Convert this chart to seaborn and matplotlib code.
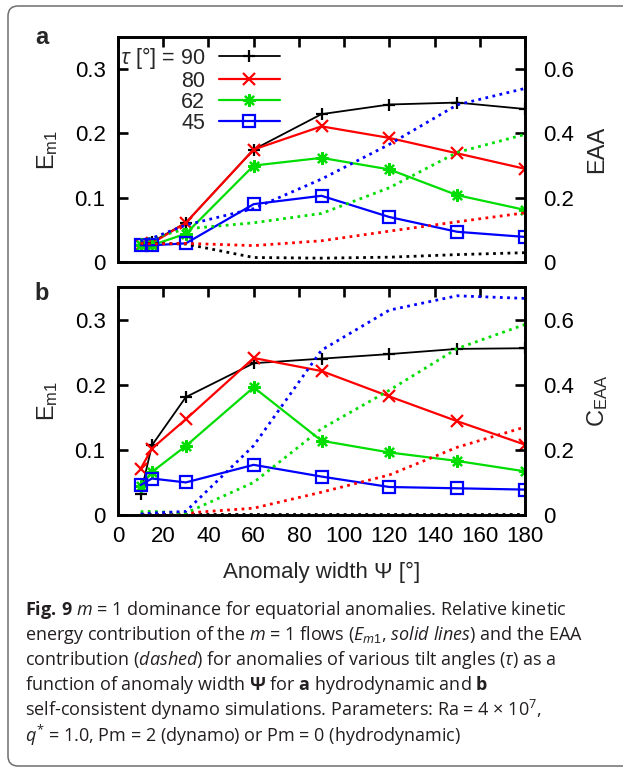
import matplotlib
matplotlib.use("Agg")
import matplotlib.pyplot as plt
import seaborn as sns
import pandas as pd
from matplotlib.lines import Line2D
from matplotlib.patches import FancyBboxPatch

# ---------------- data ----------------
psi = [10, 15, 30, 60, 90, 120, 150, 180]
taus = [90, 80, 62, 45]

# panel a (hydrodynamic)
a_em1_90 = [0.026, 0.031, 0.061, 0.175, 0.230, 0.245, 0.248, 0.238]
a_em1_80 = [0.026, 0.029, 0.061, 0.175, 0.211, 0.193, 0.169, 0.145]
a_em1_62 = [0.026, 0.026, 0.044, 0.150, 0.162, 0.144, 0.104, 0.081]
a_em1_45 = [0.026, 0.026, 0.029, 0.090, 0.103, 0.070, 0.047, 0.039]
a_eaa_90 = [0.058, 0.058, 0.056, 0.014, 0.012, 0.015, 0.023, 0.029]
a_eaa_80 = [0.058, 0.056, 0.058, 0.051, 0.066, 0.096, 0.125, 0.153]
a_eaa_62 = [0.069, 0.074, 0.103, 0.122, 0.151, 0.231, 0.341, 0.397]
a_eaa_45 = [0.066, 0.074, 0.115, 0.166, 0.258, 0.366, 0.489, 0.540]

# panel b (dynamo)
b_em1_90 = [0.032, 0.107, 0.181, 0.233, 0.240, 0.247, 0.255, 0.256]
b_em1_80 = [0.071, 0.102, 0.147, 0.241, 0.221, 0.182, 0.144, 0.108]
b_em1_62 = [0.044, 0.066, 0.106, 0.196, 0.114, 0.096, 0.083, 0.067]
b_em1_45 = [0.046, 0.056, 0.050, 0.077, 0.059, 0.043, 0.041, 0.039]
b_ceaa_90 = [0.002, 0.002, 0.002, 0.002, 0.002, 0.002, 0.002, 0.002]
b_ceaa_80 = [0.002, 0.002, 0.006, 0.021, 0.070, 0.123, 0.208, 0.270]
b_ceaa_62 = [0.010, 0.011, 0.006, 0.100, 0.265, 0.383, 0.511, 0.585]
b_ceaa_45 = [0.003, 0.006, 0.011, 0.213, 0.506, 0.629, 0.673, 0.665]

x_ticks = [0, 20, 40, 60, 80, 100, 120, 140, 160, 180]
left_ticks = [0, 0.1, 0.2, 0.3]
left_labels = ["0", "0.1", "0.2", "0.3"]
right_ticks = [0, 0.2, 0.4, 0.6]
right_labels = ["0", "0.2", "0.4", "0.6"]

caption_lines = [
    r"$\mathbf{Fig.\,9}$ $\mathit{m}$ = 1 dominance for equatorial anomalies. Relative kinetic",
    r"energy contribution of the $\mathit{m}$ = 1 flows ($\mathit{E_{m1}}$, $\mathit{solid\ lines}$) and the EAA",
    r"contribution ($\mathit{dashed}$) for anomalies of various tilt angles ($\mathit{\tau}$) as a",
    r"function of anomaly width $\mathbf{\Psi}$ for $\mathbf{a}$ hydrodynamic and $\mathbf{b}$",
    r"self-consistent dynamo simulations. Parameters: Ra = 4 × 10$^{\mathsf{7}}$,",
    r"$\mathit{q}^{\mathsf{*}}$ = 1.0, Pm = 2 (dynamo) or Pm = 0 (hydrodynamic)",
]

def long_form(em1, eaa):
    rows = []
    for t, e, c in zip(taus, em1, eaa):
        for xv, ev, cv in zip(psi, e, c):
            rows.append({"psi": xv, "tau": t, "em1": ev, "eaa": cv})
    return pd.DataFrame(rows)

df_a = long_form([a_em1_90, a_em1_80, a_em1_62, a_em1_45],
                 [a_eaa_90, a_eaa_80, a_eaa_62, a_eaa_45])
df_b = long_form([b_em1_90, b_em1_80, b_em1_62, b_em1_45],
                 [b_ceaa_90, b_ceaa_80, b_ceaa_62, b_ceaa_45])

# ---------------- style ----------------
sns.set_style("white")
plt.rcParams.update({
    "font.family": ["Liberation Sans", "DejaVu Sans"],
    "mathtext.fontset": "custom",
    "mathtext.rm": "Liberation Sans",
    "mathtext.it": "Open Sans:italic",
    "mathtext.bf": "Open Sans:bold",
    "mathtext.sf": "Open Sans",
})

colors = {90: "#000000", 80: "#ff0000", 62: "#00dd00", 45: "#0000ff"}
markers = {90: "+", 80: "x", 62: (8, 2, 0), 45: "s"}
msizes = {90: 9, 80: 8, 62: 9, 45: 8}

W, H = 623, 769
fig = plt.figure(figsize=(W / 100, H / 100), dpi=100)

def add_ax(top, bottom, left=118, right=525):
    return fig.add_axes([left / W, 1 - bottom / H, (right - left) / W, (bottom - top) / H])

ax_a = add_ax(37, 262)
ax_b = add_ax(287, 515)

FS = 16
SPW = 1.9

def draw_panel(ax, df, right_label, show_xlabels):
    ax2 = ax.twinx()
    for t in taus:
        sub = df[df["tau"] == t]
        sns.lineplot(data=sub, x="psi", y="em1", ax=ax, color=colors[t],
                     marker=markers[t], markersize=msizes[t],
                     markeredgewidth=1.6, markeredgecolor=colors[t],
                     markerfacecolor="none" if t == 45 else colors[t],
                     linewidth=1.6 if t != 90 else 1.3, legend=False)
        sns.lineplot(data=sub, x="psi", y="eaa", ax=ax2, color=colors[t],
                     linestyle=(0, (1, 1.6)), linewidth=2.0, legend=False)
    ax.set_xlim(0, 180)
    ax.set_ylim(0, 0.35)
    ax2.set_ylim(0, 0.70)
    ax.set_xticks(x_ticks)
    ax.set_yticks(left_ticks)
    ax.set_yticklabels(left_labels)
    ax2.set_yticks(right_ticks)
    ax2.set_yticklabels(right_labels)
    for a in (ax, ax2):
        for s in a.spines.values():
            s.set_linewidth(SPW)
            s.set_color("black")
        a.set_facecolor("none")
    ax.tick_params(axis="both", direction="in", length=7, width=SPW,
                   labelsize=FS, colors="black", top=True, right=False)
    ax.tick_params(axis="y", pad=9)
    ax.tick_params(axis="x", pad=8)
    ax2.tick_params(axis="y", direction="in", length=7, width=SPW,
                    labelsize=FS, colors="black", pad=13)
    if not show_xlabels:
        ax.set_xticklabels([])
        ax.set_xlabel("")
    else:
        ax.set_xlabel("Anomaly width Ψ [°]", fontsize=FS)
        ax.xaxis.label.set_va("center")
        ax.xaxis.set_label_coords(0.5, -0.25)
    ax.set_ylabel(r"E$_{\mathrm{m1}}$", fontsize=FS + 1)
    ax.yaxis.label.set_va("center")
    ax.yaxis.set_label_coords(-0.172, 0.5)
    ax2.set_ylabel(right_label, fontsize=FS + 1)
    ax2.yaxis.label.set_va("center")
    ax2.yaxis.set_label_coords(1.178, 0.5)
    return ax2

draw_panel(ax_a, df_a, "EAA", False)
draw_panel(ax_b, df_b, r"C$_{\mathrm{EAA}}$", True)

# legend in panel a
handles = [Line2D([], [], color=colors[t], marker=markers[t], markersize=msizes[t],
                  markeredgewidth=1.6,
                  markerfacecolor="none" if t == 45 else colors[t],
                  linewidth=1.6 if t != 90 else 1.3) for t in taus]
labels = [r"$\tau$ [°] = 90", "80", "62", "45"]
leg = ax_a.legend(handles, labels, loc="upper left", bbox_to_anchor=(0.005, 0.965),
                  frameon=False, markerfirst=False, numpoints=1, fontsize=15.5,
                  handlelength=2.8, handletextpad=0.65, labelspacing=0.0,
                  borderpad=0, borderaxespad=0)
try:
    for col in leg._legend_handle_box.get_children():
        col.align = "right"
except Exception:
    pass

# panel letters
fig.text(42 / W, 1 - 38 / H, "a", fontsize=17, fontweight="bold", ha="center", va="center")
fig.text(42 / W, 1 - 293 / H, "b", fontsize=17, fontweight="bold", ha="center", va="center")

# caption
for i, line in enumerate(caption_lines):
    fig.text(25 / W, 1 - (610 + 25 * i) / H, line, fontsize=13, family="Open Sans",
             ha="left", va="center", color="#231f20")

# rounded frame (right side runs off the image)
frame = FancyBboxPatch((8 / W, 3 / H), 2.0, 760 / H,
                       boxstyle="round,pad=0,rounding_size=%f" % (10 / W),
                       mutation_aspect=W / H,
                       transform=fig.transFigure, facecolor="none",
                       edgecolor="#6e6e6e", linewidth=1.1, clip_on=False)
fig.patches.append(frame)

fig.savefig("out.png", dpi=100)
